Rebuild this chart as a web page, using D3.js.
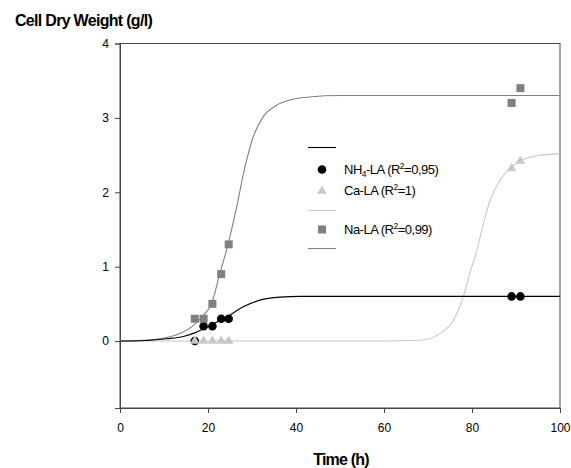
<!DOCTYPE html>
<html><head><meta charset="utf-8">
<script src="https://cdn.jsdelivr.net/npm/d3@7"></script>
<style>body{margin:0;background:#fff}svg{display:block}text{font-family:"Liberation Sans",Arial,sans-serif}</style>
</head><body>
<svg id="c" width="571" height="468"></svg>
<script>
// measured points
const timeEarly = [17, 19, 21, 23, 24.7];
const timeLate = [89, 91];
const nh4Values = [0, 0.2, 0.2, 0.3, 0.3, 0.6, 0.6];
const caValues = [0, 0, 0, 0, 0, 2.32, 2.42];
const naValues = [0.3, 0.3, 0.5, 0.9, 1.3, 3.2, 3.4];
// fitted curves
const nh4CurveT = [0, 5, 10.6, 14.4, 17.4, 20.5, 24.2, 28, 31.8, 36.4, 40.9, 50, 100];
const nh4CurveY = [0, 0.005, 0.03, 0.06, 0.12, 0.21, 0.32, 0.46, 0.55, 0.59, 0.6, 0.6, 0.6];
const naCurveT = [0, 5, 9.1, 13.6, 16.7, 19, 20.8, 22.7, 24.6, 26.5, 28.4, 30.3, 32.6, 35.6, 38.6, 43, 50, 100];
const naCurveY = [0, 0.01, 0.03, 0.1, 0.21, 0.35, 0.5, 0.91, 1.31, 1.8, 2.34, 2.75, 3.02, 3.17, 3.24, 3.28, 3.3, 3.3];
const caCurveT = [0, 60, 68.2, 72.7, 75.8, 78, 79.5, 81.1, 82.6, 84.1, 86.4, 88.6, 90.9, 94.7, 100];
const caCurveY = [0, 0, 0.01, 0.1, 0.28, 0.59, 0.91, 1.22, 1.58, 1.89, 2.16, 2.32, 2.42, 2.49, 2.52];
const xTicks = [0, 20, 40, 60, 80, 100];
const yTicks = [0, 1, 2, 3, 4];

const L = 120, R = 560, T = 43.5, B = 408;
const svg = d3.select("#c");
const x = d3.scaleLinear().domain([0, 100]).range([L, R]);
const y = d3.scaleLinear().domain([-0.9, 4]).range([B, T]);
const times = timeEarly.concat(timeLate);

// frame
svg.append("rect").attr("x", L).attr("y", T).attr("width", R - L).attr("height", B - T)
  .attr("fill", "none").attr("stroke", "#444").attr("stroke-width", 1);

const xa = svg.append("g").attr("transform", `translate(0,${B})`)
  .call(d3.axisBottom(x).tickValues(xTicks).tickSize(5).tickPadding(10).tickFormat(d3.format("d")));
const ya = svg.append("g").attr("transform", `translate(${L},0)`)
  .call(d3.axisLeft(y).tickValues(yTicks).tickSize(5).tickPadding(6).tickFormat(d3.format("d")));
[xa, ya].forEach(g => {
  g.select(".domain").attr("stroke", "#444");
  g.selectAll(".tick line").attr("stroke", "#444");
  g.selectAll("text").attr("font-size", 12).attr("fill", "#000").attr("font-family", '"Liberation Sans",Arial,sans-serif');
});

const line = d3.line().x(d => x(d[0])).y(d => y(d[1])).curve(d3.curveMonotoneX);
function curve(ts, ys, color) {
  svg.append("path").datum(ts.map((t, i) => [t, ys[i]])).attr("d", line)
    .attr("fill", "none").attr("stroke", color).attr("stroke-width", 1.1);
}
curve(caCurveT, caCurveY, "#c8c8c8");
curve(naCurveT, naCurveY, "#808080");
curve(nh4CurveT, nh4CurveY, "#000");

// points
svg.append("g").selectAll("circle").data(nh4Values).join("circle")
  .attr("cx", (d, i) => x(times[i])).attr("cy", d => y(d)).attr("r", 4.3).attr("fill", "#000");
const tri = d3.symbol().type(d3.symbolTriangle).size(40);
svg.append("g").selectAll("path").data(caValues).join("path")
  .attr("d", tri).attr("transform", (d, i) => `translate(${x(times[i])},${y(d)})`).attr("fill", "#c8c8c8");
svg.append("g").selectAll("rect").data(naValues).join("rect")
  .attr("x", (d, i) => x(times[i]) - 4).attr("y", d => y(d) - 4).attr("width", 8).attr("height", 8).attr("fill", "#808080");

// legend
const lg = svg.append("g");
lg.append("line").attr("x1", 308).attr("x2", 336).attr("y1", 147.5).attr("y2", 147.5).attr("stroke", "#000").attr("stroke-width", 1.1);
lg.append("circle").attr("cx", 322).attr("cy", 169.5).attr("r", 4.3).attr("fill", "#000");
lg.append("path").attr("d", tri).attr("transform", "translate(322,191)").attr("fill", "#c8c8c8");
lg.append("line").attr("x1", 308).attr("x2", 336).attr("y1", 210.5).attr("y2", 210.5).attr("stroke", "#c8c8c8").attr("stroke-width", 1.1);
lg.append("rect").attr("x", 318).attr("y", 225.5).attr("width", 8).attr("height", 8).attr("fill", "#808080");
lg.append("line").attr("x1", 308).attr("x2", 336).attr("y1", 248.5).attr("y2", 248.5).attr("stroke", "#808080").attr("stroke-width", 1.1);

function legText(yy, parts) {
  const t = lg.append("text").attr("x", 344).attr("y", yy).attr("font-size", 13).attr("letter-spacing", -0.5);
  parts.forEach(p => {
    const s = t.append("tspan").text(p[0]);
    if (p[1] === "sub") s.attr("font-size", 8.5).attr("dy", 3);
    else if (p[1] === "sup") s.attr("font-size", 8.5).attr("dy", -5);
    else if (p[1] === "back") s.attr("dy", p[2]);
  });
}
legText(174.3, [["NH"], ["4", "sub"], ["-LA (R", "back", -3], ["2", "sup"], ["=0,95)", "back", 5]]);
legText(195, [["Ca-LA (R"], ["2", "sup"], ["=1)", "back", 5]]);
legText(233.5, [["Na-LA (R"], ["2", "sup"], ["=0,99)", "back", 5]]);

// titles
svg.append("text").attr("x", 15).attr("y", 26).attr("font-size", 16).attr("font-weight", "bold")
  .attr("letter-spacing", -0.7).text("Cell Dry Weight (g/l)");
svg.append("text").attr("x", 341).attr("y", 465).attr("text-anchor", "middle").attr("font-size", 16)
  .attr("font-weight", "bold").attr("letter-spacing", -0.8).text("Time (h)");
</script>
</body></html>
